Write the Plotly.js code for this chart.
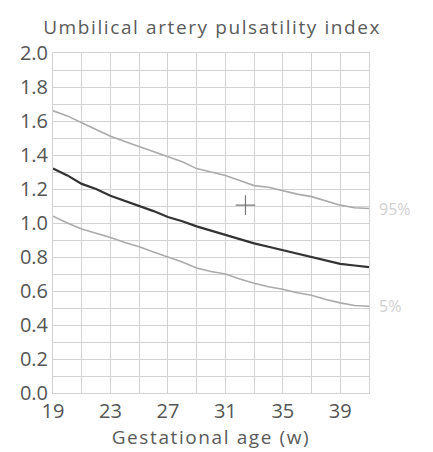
<!DOCTYPE html>
<html>
<head>
<meta charset="utf-8">
<script src="https://cdn.plot.ly/plotly-3.0.1.min.js"></script>
<style>
html,body{margin:0;padding:0;background:#fff;}#chart{width:433px;height:452px;}
.gtitle{letter-spacing:1.6px;}
.xtitle{letter-spacing:1.6px;}
</style>
</head>
<body>
<div id="chart"></div>
<script>
const weeks = [19,20,21,22,23,24,25,26,27,28,29,30,31,32,33,34,35,36,37,38,39,40,41];
const p95 = [1.66,1.63,1.59,1.55,1.51,1.48,1.45,1.42,1.39,1.36,1.32,1.30,1.28,1.25,1.22,1.21,1.19,1.17,1.155,1.13,1.105,1.09,1.085];
const p50 = [1.32,1.28,1.23,1.20,1.16,1.13,1.10,1.07,1.035,1.01,0.98,0.955,0.93,0.905,0.88,0.86,0.84,0.82,0.80,0.78,0.76,0.75,0.74];
const p5  = [1.04,1.00,0.965,0.94,0.915,0.885,0.86,0.83,0.80,0.77,0.735,0.715,0.70,0.67,0.645,0.625,0.61,0.59,0.575,0.55,0.53,0.515,0.51];
const pointX = [32.4];
const pointY = [1.105];
const xTicks = [19,23,27,31,35,39];
const yTicks = [0,0.2,0.4,0.6,0.8,1.0,1.2,1.4,1.6,1.8,2.0];
const yTickText = ["0.0","0.2","0.4","0.6","0.8","1.0","1.2","1.4","1.6","1.8","2.0"];
const labels = ["95%","5%"];

const font = "Open Sans, DejaVu Sans, sans-serif";
const gridC = "#d2d2d2";
const traces = [
  {x: weeks, y: p95, mode: "lines", line: {color: "#aaaaaa", width: 1.6}, hoverinfo: "skip"},
  {x: weeks, y: p50, mode: "lines", line: {color: "#333333", width: 2.2}, hoverinfo: "skip"},
  {x: weeks, y: p5, mode: "lines", line: {color: "#aaaaaa", width: 1.6}, hoverinfo: "skip"},
  {x: pointX, y: pointY, mode: "markers", marker: {symbol: "cross-thin-open", size: 14, color: "#777", line: {color: "#777", width: 1.2}}, hoverinfo: "skip"}
];
const layout = {
  width: 433, height: 452,
  margin: {l: 53, r: 64, t: 53, b: 59},
  paper_bgcolor: "#fff", plot_bgcolor: "#fff",
  showlegend: false,
  font: {family: font, color: "#555", size: 18},
  title: {text: "Umbilical artery pulsatility index", x: 0.49, xanchor: "center", y: 0.94, yanchor: "middle", font: {family: font, size: 19, color: "#5a5a5a"}},
  xaxis: {
    range: [19, 41], tickvals: xTicks, ticktext: xTicks.map(String),
    showgrid: true, gridcolor: gridC, gridwidth: 1,
    minor: {tick0: 19, dtick: 2, showgrid: true, gridcolor: gridC, gridwidth: 1},
    showline: true, mirror: true, linecolor: gridC, linewidth: 1,
    zeroline: false, ticks: "", ticklen: 0,
    tickfont: {family: font, size: 20, color: "#555"},
    title: {text: "Gestational age (w)", standoff: 6, font: {family: font, size: 19, color: "#5a5a5a"}},
    automargin: false, fixedrange: true
  },
  yaxis: {
    range: [0, 2], tickvals: yTicks, ticktext: yTickText,
    showgrid: true, gridcolor: gridC, gridwidth: 1,
    minor: {tick0: 0, dtick: 0.1, showgrid: true, gridcolor: gridC, gridwidth: 1},
    showline: true, mirror: true, linecolor: gridC, linewidth: 1,
    zeroline: true, zerolinecolor: "#c8c8c8", zerolinewidth: 1,
    ticks: "", ticklen: 0, ticklabelstandoff: 0,
    tickfont: {family: font, size: 20, color: "#555"},
    automargin: false, fixedrange: true
  },
  annotations: [
    {x: weeks[weeks.length-1], y: p95[p95.length-1], xref: "x", yref: "y", text: labels[0], showarrow: false, xanchor: "left", yanchor: "middle", xshift: 8, font: {family: font, size: 16, color: "#d0d0d0"}},
    {x: weeks[weeks.length-1], y: p5[p5.length-1], xref: "x", yref: "y", text: labels[1], showarrow: false, xanchor: "left", yanchor: "middle", xshift: 8, font: {family: font, size: 16, color: "#d0d0d0"}}
  ]
};
Plotly.newPlot("chart", traces, layout, {displayModeBar: false, staticPlot: true});
</script>
</body>
</html>
